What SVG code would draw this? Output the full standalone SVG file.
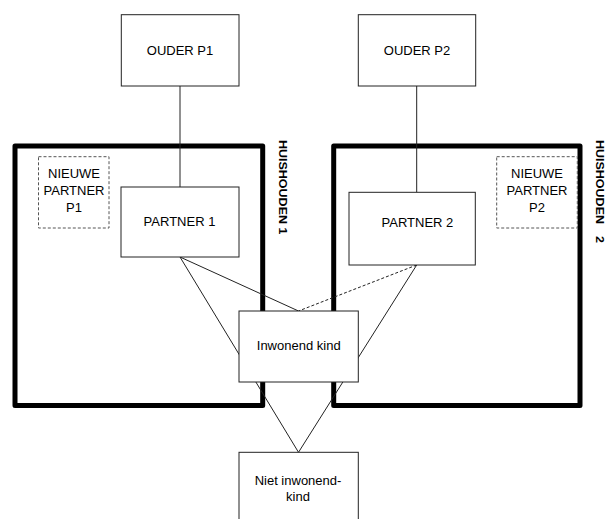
<svg xmlns="http://www.w3.org/2000/svg" width="608" height="519" viewBox="0 0 608 519">
<style>
text{font-family:"Liberation Sans",Arial,sans-serif;font-size:13px;fill:#000}
.node{fill:#fff;stroke:#222;stroke-width:1}
.dash{fill:#fff;stroke:#555;stroke-width:1;stroke-dasharray:3 2}
.house{fill:none;stroke:#000;stroke-width:5;stroke-linejoin:round}
.lbl{font-weight:bold;font-size:12.5px}
.c{text-anchor:middle}
.ln{stroke:#222;stroke-width:1;fill:none}
.ld{stroke:#222;stroke-width:1;fill:none;stroke-dasharray:3 2}
</style>
<g id="huishouden1">
<rect class="house" x="15" y="146" width="247.7" height="259.5"/>
<text class="lbl" transform="translate(279,140) rotate(90) scale(1,0.85)">HUISHOUDEN 1</text>
</g>
<g id="huishouden2">
<rect class="house" x="333.7" y="146" width="246.3" height="259.5"/>
<text class="lbl" transform="translate(596,140) rotate(90) scale(1,0.85)">HUISHOUDEN<tspan x="96">2</tspan></text>
</g>
<g id="connectors">
<line class="ln" x1="180" y1="86" x2="180" y2="187"/>
<line class="ln" x1="416.7" y1="86" x2="416.7" y2="192.3"/>
<line class="ln" x1="180" y1="257" x2="298.5" y2="311"/>
<line class="ln" x1="180" y1="257" x2="298.5" y2="452.3"/>
<line class="ld" x1="416.7" y1="265" x2="298.5" y2="311"/>
<line class="ln" x1="416.7" y1="265" x2="298.5" y2="452.3"/>
</g>
<g id="ouder-p1">
<rect class="node" x="121.3" y="14.7" width="117.7" height="71.3"/>
<text class="c" x="180" y="55">OUDER P1</text>
</g>
<g id="ouder-p2">
<rect class="node" x="358.3" y="14.7" width="117.4" height="71.3"/>
<text class="c" x="417" y="55">OUDER P2</text>
</g>
<g id="nieuwe-partner-p1">
<rect class="dash" x="38.5" y="156.7" width="70.5" height="71.3"/>
<text class="c" x="74" y="178">NIEUWE</text>
<text class="c" x="74" y="195">PARTNER</text>
<text class="c" x="74" y="212">P1</text>
</g>
<g id="nieuwe-partner-p2">
<rect class="dash" x="496.7" y="156.7" width="80.6" height="71.3"/>
<text class="c" x="537" y="178">NIEUWE</text>
<text class="c" x="537" y="195">PARTNER</text>
<text class="c" x="537" y="212">P2</text>
</g>
<g id="partner1">
<rect class="node" x="121" y="187" width="118" height="70"/>
<text class="c" x="179.5" y="226">PARTNER 1</text>
</g>
<g id="partner2">
<rect class="node" x="349" y="192.3" width="126.3" height="72.7"/>
<text class="c" x="417.4" y="227">PARTNER 2</text>
</g>
<g id="inwonend-kind">
<rect class="node" x="239" y="311" width="119.3" height="71"/>
<text class="c" x="298.7" y="350">Inwonend kind</text>
</g>
<g id="niet-inwonend-kind">
<rect class="node" x="239" y="452.3" width="119.3" height="80"/>
<text class="c" x="298" y="485">Niet inwonend-</text>
<text class="c" x="298" y="500.5">kind</text>
</g>
</svg>
